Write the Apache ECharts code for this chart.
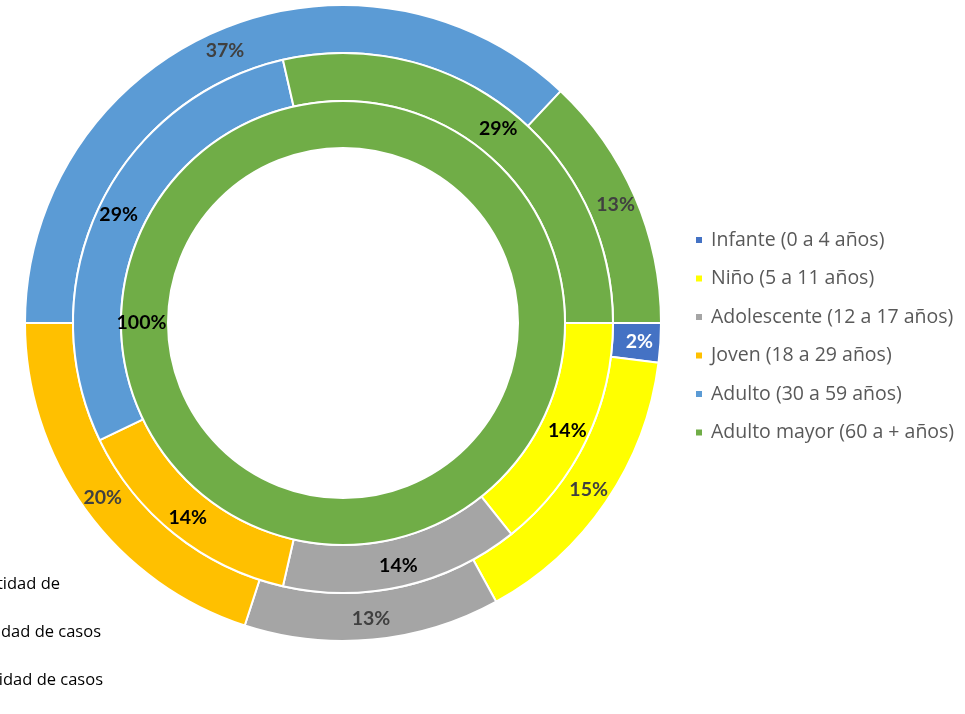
<!DOCTYPE html>
<html>
<head>
<meta charset="utf-8">
<script src="https://cdn.jsdelivr.net/npm/echarts@6/dist/echarts.min.js"></script>
<style>
  html, body { margin: 0; padding: 0; background: #fff; }
  #chart { width: 965px; height: 714px; }
</style>
</head>
<body>
<div id="chart"></div>
<script>
const categories = ['Infante (0 a 4 años)', 'Niño (5 a 11 años)', 'Adolescente (12 a 17 años)',
  'Joven (18 a 29 años)', 'Adulto (30 a 59 años)', 'Adulto mayor (60 a + años)'];
const colors = ['#4472C4', '#FFFF00', '#A5A5A5', '#FFC000', '#5B9BD5', '#70AD47'];

// three rings, outside to inside
const outerValues = [2, 15, 13, 20, 37, 13];
const middleValues = [0, 1, 1, 1, 2, 2];
const innerValues = [0, 0, 0, 0, 0, 1];

// clipped series legend at the bottom left
const seriesNames = ['Cantidad de', 'Cantidad de casos', 'Cantidad de casos'];

const chart = echarts.init(document.getElementById('chart'));

function ringData(values, labelColor) {
  return values.map((v, i) => ({
    name: categories[i],
    value: v,
    itemStyle: { color: colors[i] },
    label: { color: i === 0 ? '#ffffff' : labelColor }
  })).filter(d => d.value > 0);
}

function ring(name, values, radius, labelColor) {
  return {
    name: name,
    type: 'pie',
    center: [343, 323],
    radius: radius,
    startAngle: 0,
    clockwise: true,
    percentPrecision: 0,
    silent: true,
    itemStyle: { borderColor: '#ffffff', borderWidth: 2 },
    label: {
      show: true,
      position: 'inside',
      formatter: '{d}%',
      fontFamily: 'Lato',
      fontWeight: 'bold',
      fontSize: 19.5
    },
    labelLine: { show: false },
    emphasis: { disabled: true },
    data: ringData(values, labelColor)
  };
}

const options = {
  animation: false,
  legend: {
    orient: 'vertical',
    left: 694,
    top: 229,
    padding: 0,
    data: categories,
    icon: 'rect',
    itemWidth: 8,
    itemHeight: 8,
    itemGap: 16.5,
    textStyle: {
      color: '#595959',
      fontFamily: 'Open Sans',
      fontSize: 19.5,
      lineHeight: 22,
      padding: [0, 0, 0, 3]
    }
  },
  graphic: seriesNames.map((t, i) => ({
    type: 'text',
    x: [60, 101, 103][i],
    y: [584, 632, 680][i],
    style: {
      text: t,
      fill: '#000000',
      font: '16.5px "Open Sans"',
      align: 'right',
      verticalAlign: 'middle'
    }
  })),
  series: [
    ring('Cantidad de casos 1', outerValues, [270, 318], '#404040'),
    ring('Cantidad de casos 2', middleValues, [222, 270], '#000000'),
    ring('Cantidad de casos 3', innerValues, [175, 222], '#000000')
  ]
};

chart.setOption(options);
</script>
</body>
</html>
